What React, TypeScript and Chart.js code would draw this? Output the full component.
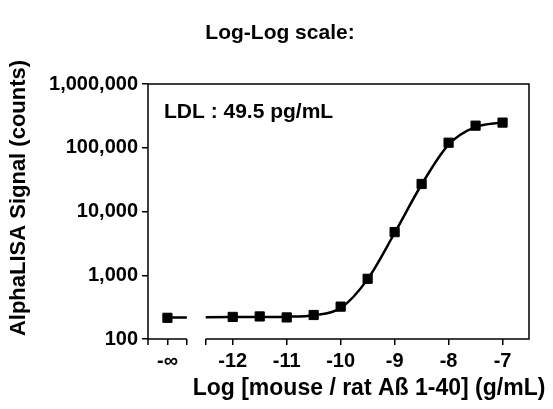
import React, { useEffect, useRef } from 'react';
import { Chart, registerables } from 'chart.js';

Chart.register(...registerables);

// ---- data ----
const NEG_INF = -13.21; // position used for the "-∞" (zero concentration) point
const BREAK_START = -12.85;
const BREAK_END = -12.5;

const concLog = [NEG_INF, -12, -11.5, -11, -10.5, -10, -9.5, -9, -8.5, -8, -7.5, -7];
const signal = [215, 222, 226, 218, 238, 322, 880, 4750, 27000, 120000, 222000, 248000];

// fitted curve
const fitX = [-12.5, -12, -11.5, -11, -10.5, -10, -9.5, -9, -8.5, -8, -7.5, -7];
const fitY = [220, 221, 222, 224, 236, 305, 870, 4600, 26500, 112000, 212000, 250000];
const fitBaseline = 218;

const xTickValues = [NEG_INF, BREAK_START, BREAK_END, -12, -11, -10, -9, -8, -7];
const xTickLabels = ['-∞', '', '', '-12', '-11', '-10', '-9', '-8', '-7'];
const yTickValues = [100, 1000, 10000, 100000, 1000000];
const yTickLabels = ['100', '1,000', '10,000', '100,000', '1,000,000'];

const titleText = 'Log-Log scale:';
const xTitle = 'Log [mouse / rat Aß 1-40] (g/mL)';
const yTitle = 'AlphaLISA Signal (counts)';
const ldlText = 'LDL : 49.5 pg/mL';

const FONT = '"Liberation Sans", Arial, Helvetica, sans-serif';

const decorPlugin = {
  id: 'decor',
  afterDraw(chart: any) {
    const { ctx, chartArea } = chart;
    const xs = chart.scales.x;
    const { left, right, top, bottom } = chartArea;
    ctx.save();
    ctx.strokeStyle = '#000';
    ctx.lineWidth = 1.5;
    ctx.lineCap = 'butt';
    // frame: left (extended below), top, right
    ctx.beginPath();
    ctx.moveTo(left, top);
    ctx.lineTo(left, bottom + 6);
    ctx.moveTo(left - 0.75, top);
    ctx.lineTo(right, top);
    ctx.lineTo(right, bottom);
    // bottom axis with break
    ctx.moveTo(left, bottom);
    ctx.lineTo(xs.getPixelForValue(BREAK_START), bottom);
    ctx.moveTo(xs.getPixelForValue(BREAK_END), bottom);
    ctx.lineTo(right + 0.75, bottom);
    ctx.stroke();

    ctx.fillStyle = '#000';
    // title
    ctx.font = `bold 21px ${FONT}`;
    ctx.textAlign = 'center';
    ctx.textBaseline = 'middle';
    ctx.fillText(titleText, 280, 33);
    // x title
    ctx.font = `bold 23px ${FONT}`;
    ctx.fillText(xTitle, 369, 389);
    // y title
    ctx.save();
    ctx.translate(19, 198);
    ctx.rotate(-Math.PI / 2);
    ctx.font = `bold 22px ${FONT}`;
    ctx.fillText(yTitle, 0, 0);
    ctx.restore();
    // LDL annotation
    ctx.font = `bold 21px ${FONT}`;
    ctx.textAlign = 'left';
    ctx.fillText(ldlText, 164, 112);
    ctx.restore();
  },
};

export default function App() {
  const ref = useRef<HTMLCanvasElement>(null);
  useEffect(() => {
    const pts = concLog.map((x, i) => ({ x, y: signal[i] }));
    const curve: any[] = [
      { x: NEG_INF, y: fitBaseline },
      { x: BREAK_START, y: fitBaseline },
      { x: (BREAK_START + BREAK_END) / 2, y: null },
      ...fitX.map((x, i) => ({ x, y: fitY[i] })),
    ];
    const chart = new Chart(ref.current as HTMLCanvasElement, {
      type: 'scatter',
      data: {
        datasets: [
          {
            type: 'line',
            data: curve,
            borderColor: '#000',
            borderWidth: 2.5,
            pointRadius: 0,
            cubicInterpolationMode: 'monotone',
            spanGaps: false,
            showLine: true,
            fill: false,
          } as any,
          {
            data: pts,
            backgroundColor: '#000',
            borderColor: '#000',
            borderWidth: 1,
            pointStyle: 'rect',
            pointRadius: 6.5,
            showLine: false,
          } as any,
        ],
      },
      options: {
        responsive: false,
        animation: false,
        devicePixelRatio: 1,
        layout: { padding: { left: 0, top: 84, right: 24, bottom: 0 } },
        plugins: { legend: { display: false }, tooltip: { enabled: false }, title: { display: false } },
        scales: {
          x: {
            type: 'linear',
            min: -13.57,
            max: -6.51,
            afterBuildTicks: (s: any) => {
              s.ticks = xTickValues.map((v) => ({ value: v }));
            },
            afterFit: (s: any) => {
              s.height = 70;
            },
            border: { display: false },
            grid: { drawOnChartArea: false, drawTicks: true, tickLength: 6, color: '#000', lineWidth: 1.5 },
            ticks: {
              autoSkip: false,
              maxRotation: 0,
              padding: 4,
              color: '#000',
              font: { family: FONT, size: 20, weight: 'bold' },
              callback: (_v: any, i: number) => xTickLabels[i],
            },
          },
          y: {
            type: 'logarithmic',
            min: 100,
            max: 1000000,
            afterBuildTicks: (s: any) => {
              s.ticks = yTickValues.map((v) => ({ value: v }));
            },
            afterFit: (s: any) => {
              s.width = 148;
            },
            border: { display: false },
            grid: { drawOnChartArea: false, drawTicks: true, tickLength: 6, color: '#000', lineWidth: 1.5 },
            ticks: {
              autoSkip: false,
              padding: 4,
              color: '#000',
              font: { family: FONT, size: 20, weight: 'bold' },
              callback: (_v: any, i: number) => yTickLabels[i],
            },
          },
        },
      },
      plugins: [decorPlugin],
    } as any);
    return () => chart.destroy();
  }, []);
  return (
    <div style={{ position: 'fixed', left: 0, top: 0, width: 553, height: 409, background: '#fff' }}>
      <canvas ref={ref} width={553} height={409} style={{ display: 'block' }} />
    </div>
  );
}
